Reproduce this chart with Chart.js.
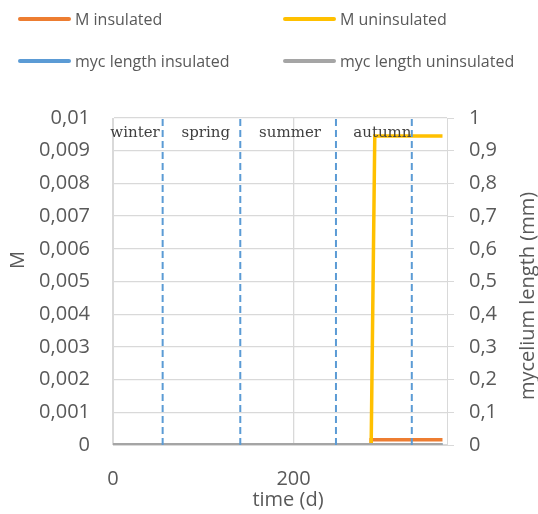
<!DOCTYPE html>
<html>
<head>
<meta charset="utf-8">
<script src="https://cdn.jsdelivr.net/npm/chart.js@4.4.1/dist/chart.umd.min.js"></script>
<style>
  html, body { margin: 0; padding: 0; background: #fff; }
  #wrap { position: relative; width: 538px; height: 514px; }
  #chart { position: absolute; left: 0; top: 0; }
  .leg { position: absolute; display: flex; align-items: center; font: 16px "Open Sans", sans-serif; color: #595959; white-space: nowrap; }
  .leg span.sw { display: inline-block; width: 53px; height: 4px; border-radius: 2px; margin-right: 4px; }
</style>
</head>
<body>
<div id="wrap">
  <canvas id="chart" width="538" height="514"></canvas>
  <div id="legend"></div>
</div>
<script>
// === DATA ===

const timeDays = [0, 286, 286, 290, 365];
const mInsulated = [0, 0, 0.00016, 0.00016, 0.00016];
const mUninsulated = [0, 0, 0, 0.00945, 0.00945];
const mycInsulated = [0, 0, 0, 0, 0];
const mycUninsulated = [0, 0, 0, 0, 0];

// season boundaries (d) and label anchors (d)
const seasonBounds = [55, 141, 247, 331];
const seasonNames = ["winter", "spring", "summer", "autumn"];
const seasonLabelX = [24.4, 102.8, 196.1, 298.4];

const xTicks = [0, 200];

const seriesNames = ["M insulated", "M uninsulated", "myc length insulated", "myc length uninsulated"];
const seriesColors = ["#ED7D31", "#FFC000", "#5B9BD5", "#A5A5A5"];

// === HELPERS ===

const pts = (ys) => timeDays.map((t, i) => ({ x: t, y: ys[i] }));
const comma = (v, d) => String(+Number(v).toFixed(d)).replace(".", ",");

const seasonLines = seasonBounds.flatMap(b => [{ x: b, y: 0 }, { x: b, y: 0.01 }, { x: b, y: null }]);

// === LEGEND ===

const legendPos = [[18, 19], [283, 19], [18, 61], [283, 61]];
const legendEl = document.getElementById("legend");
seriesNames.forEach((name, i) => {
  const d = document.createElement("div");
  d.className = "leg";
  d.style.left = legendPos[i][0] + "px";
  d.style.top = (legendPos[i][1] - 11) + "px";
  d.style.height = "22px";
  d.innerHTML = `<span class="sw" style="background:${seriesColors[i]}"></span>${name}`;
  legendEl.appendChild(d);
});

// === PLUGIN: season text + axis titles ===

const titleFont = '20px "Open Sans", sans-serif';

const extras = {
  id: "extras",
  afterDatasetsDraw(chart) {
    const { ctx, scales, chartArea } = chart;
    ctx.save();
    ctx.font = '15px "DejaVu Serif", serif';
    ctx.fillStyle = "#404040";
    ctx.textAlign = "center";
    ctx.textBaseline = "alphabetic";
    seasonNames.forEach((s, i) => {
      ctx.fillText(s, scales.x.getPixelForValue(seasonLabelX[i]), chartArea.top + 19);
    });
    ctx.restore();
  },
  afterDraw(chart) {
    const { ctx } = chart;
    ctx.save();
    ctx.font = titleFont;
    ctx.fillStyle = "#595959";
    ctx.textAlign = "center";
    ctx.textBaseline = "middle";

    ctx.fillText("time (d)", 288, 500);

    ctx.save();
    ctx.translate(18, 260);
    ctx.rotate(-Math.PI / 2);
    ctx.fillText("M", 0, 0);
    ctx.restore();

    ctx.translate(528, 296);
    ctx.rotate(-Math.PI / 2);
    ctx.fillText("mycelium length (mm)", 0, 0);
    ctx.restore();
  }
};

// === CHART ===

const tickFont = { family: "Open Sans", size: 20 };
const gridColor = "#d9d9d9";

new Chart(document.getElementById("chart"), {
  type: "line",
  data: {
    datasets: [
      {
        label: "seasons",
        data: seasonLines,
        borderColor: "#5B9BD5",
        borderWidth: 2,
        borderDash: [7, 4],
        pointRadius: 0,
        spanGaps: false,
        yAxisID: "y",
        order: 0
      },
      {
        label: seriesNames[3],
        data: pts(mycUninsulated),
        borderColor: seriesColors[3],
        borderWidth: 4,
        pointRadius: 0,
        yAxisID: "y1",
        order: 1
      },
      {
        label: seriesNames[2],
        data: pts(mycInsulated),
        borderColor: seriesColors[2],
        borderWidth: 4,
        pointRadius: 0,
        yAxisID: "y1",
        order: 2
      },
      {
        label: seriesNames[1],
        data: pts(mUninsulated),
        borderColor: seriesColors[1],
        borderWidth: 3.5,
        pointRadius: 0,
        yAxisID: "y",
        order: 3
      },
      {
        label: seriesNames[0],
        data: pts(mInsulated),
        borderColor: seriesColors[0],
        borderWidth: 3.5,
        pointRadius: 0,
        yAxisID: "y",
        order: 4
      }
    ]
  },
  options: {
    responsive: false,
    animation: false,
    layout: { padding: { top: 118, left: 0, right: 0, bottom: 0 } },
    plugins: { legend: { display: false }, tooltip: { enabled: false } },
    scales: {
      x: {
        type: "linear",
        min: 0,
        max: 370,
        afterBuildTicks: (s) => { s.ticks = xTicks.map(v => ({ value: v })); },
        afterFit: (s) => { s.height = 69; },
        ticks: { font: tickFont, color: "#595959", padding: 22, maxRotation: 0, callback: (v) => comma(v, 0) },
        grid: { color: gridColor, lineWidth: 1.3, drawTicks: false },
        border: { color: gridColor }
      },
      y: {
        position: "left",
        min: 0,
        max: 0.01,
        afterFit: (s) => { s.width = 113; },
        ticks: { stepSize: 0.001, font: tickFont, color: "#595959", padding: 23, callback: (v) => comma(v, 3) },
        grid: { color: gridColor, lineWidth: 1.3, drawTicks: false },
        border: { color: gridColor }
      },
      y1: {
        position: "right",
        min: 0,
        max: 1,
        afterFit: (s) => { s.width = 91; },
        ticks: { stepSize: 0.1, font: tickFont, color: "#595959", padding: 15, callback: (v) => comma(v, 1) },
        grid: { color: gridColor, drawOnChartArea: false, tickLength: 7 },
        border: { color: gridColor }
      }
    }
  },
  plugins: [extras]
});
</script>
</body>
</html>
